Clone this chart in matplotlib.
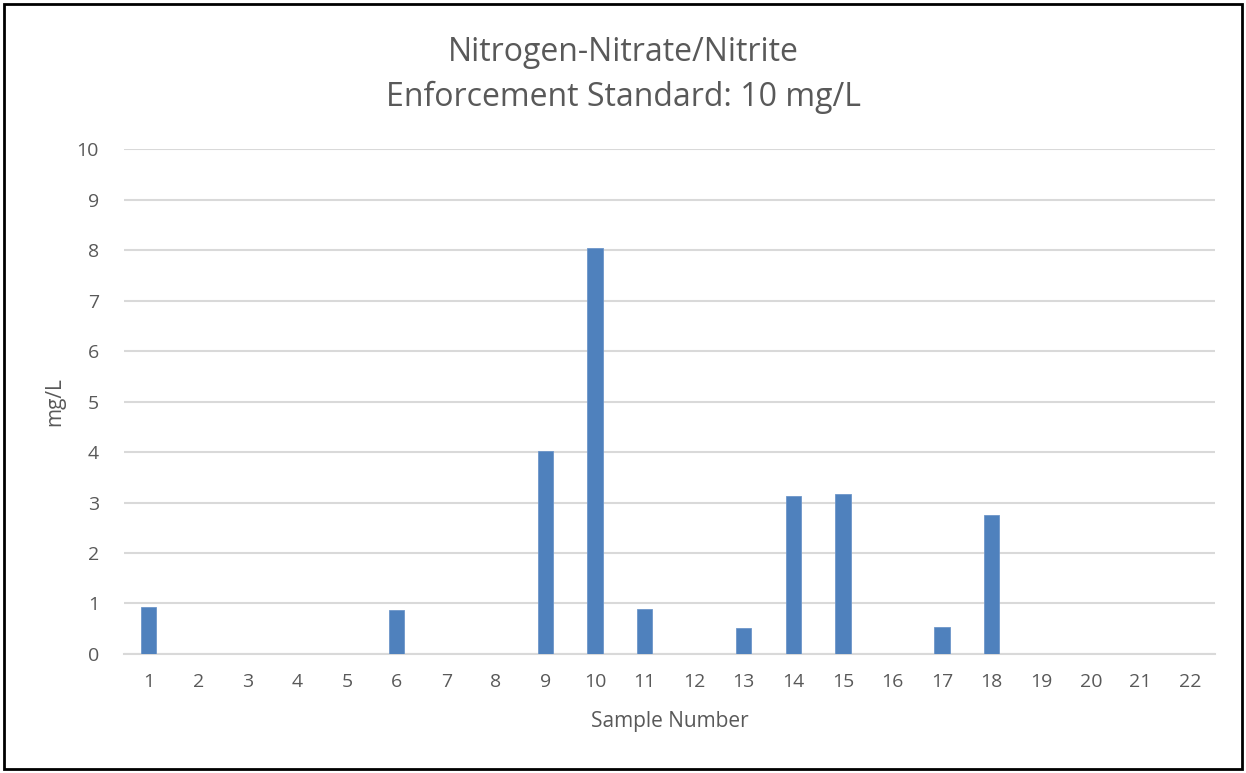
import matplotlib
matplotlib.use("Agg")
import matplotlib.pyplot as plt
from matplotlib.patches import Rectangle

plt.rcParams['font.family'] = ['Open Sans', 'DejaVu Sans']

# sample data
samples = list(range(1, 23))
values = [0.93, 0, 0, 0, 0, 0.87, 0, 0, 4.02, 8.05, 0.89, 0, 0.51, 3.13, 3.17, 0, 0.54, 2.76, 0, 0, 0, 0]
yticks = list(range(0, 11))

grey = "#595959"
bar_color = "#4f81bd"

fig = plt.figure(figsize=(12.46, 7.73), dpi=100)
ax = fig.add_axes([0.0995, 0.154, 0.8755, 0.653])

ax.bar(samples, values, width=0.31, color=bar_color, edgecolor="#6d96c9", linewidth=0.6, zorder=3)

ax.set_xlim(0.5, 22.5)
ax.set_ylim(0, 10)
ax.set_yticks(yticks)
ax.set_xticks(samples)
ax.grid(axis="y", color="#d9d9d9", linewidth=1.5, zorder=0)
ax.tick_params(axis="both", length=0, labelsize=14, colors=grey, pad=14)
ax.tick_params(axis="y", pad=18)
for s in ["top", "right", "left"]:
    ax.spines[s].set_visible(False)
ax.spines["bottom"].set_color("#d9d9d9")
ax.spines["bottom"].set_linewidth(1.5)

ax.set_xlabel("Sample Number", fontsize=15, color=grey, labelpad=14)
ax.set_ylabel("mg/L", fontsize=15, color=grey, labelpad=8)

fig.text(0.5, 0.932, "Nitrogen-Nitrate/Nitrite", ha="center", va="center", fontsize=23, color=grey)
fig.text(0.5, 0.874, "Enforcement Standard: 10 mg/L", ha="center", va="center", fontsize=23, color=grey)

# outer border
fig.patches.append(Rectangle((0.003, 0.005), 0.994, 0.99, transform=fig.transFigure,
                             fill=False, edgecolor="black", linewidth=2))

fig.savefig("out.png", dpi=100)
